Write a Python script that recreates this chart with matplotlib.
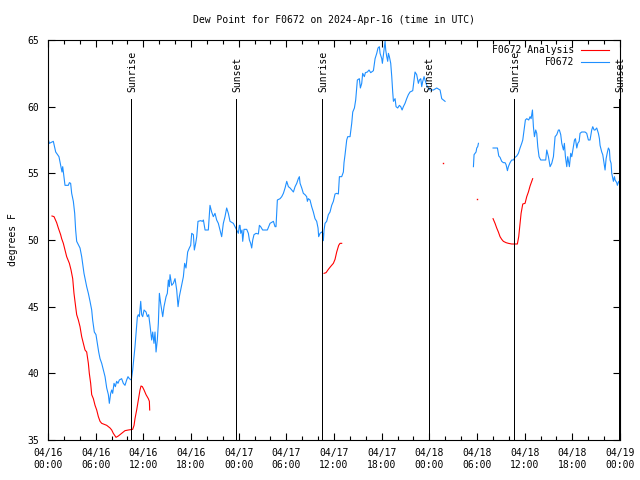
import numpy as np
import matplotlib
matplotlib.use("Agg")
import matplotlib.pyplot as plt

nan = np.nan

# F0672 observations: hours since 2024-04-16 00:00 UTC, dew point (F); NaN = gap
obs_t = [0.00, 0.17, 0.67, 0.97, 1.38, 1.59, 1.76, 1.85, 2.01, 2.14, 2.56, 2.69, 2.85, 2.98, 3.19,
         3.36, 3.48, 3.61, 4.03, 4.24, 4.53, 4.87, 5.08, 5.29, 5.50, 5.62, 5.83, 6.04, 6.21, 6.38,
         6.55, 6.76, 6.97, 7.18, 7.39, 7.60, 7.72, 7.89, 8.02, 8.14, 8.31, 8.48, 8.64, 8.81, 8.98,
         9.27, 9.48, 9.69, 9.90, 10.07, 10.24, 10.49, 10.66, 10.83, 10.95, 11.08, 11.25, 11.37,
         11.50, 11.67, 11.79, 11.92, 12.09, 12.34, 12.51, 12.67, 12.84, 13.05, 13.18, 13.34, 13.47,
         13.60, 13.76, 13.89, 14.02, 14.18, 14.44, 14.60, 14.86, 15.02, 15.15, 15.27, 15.36, 15.57,
         15.78, 15.99, 16.20, 16.37, 16.53, 16.70, 16.87, 17.04, 17.20, 17.37, 17.58, 17.79, 17.96,
         18.09, 18.30, 18.42, 18.59, 18.72, 18.88, 19.22, 19.43, 19.56, 19.77, 20.18, 20.39, 20.60,
         20.81, 21.02, 21.23, 21.44, 21.65, 21.86, 22.07, 22.28, 22.49, 22.70, 22.91, 23.33, 23.75,
         23.96, 24.09, 24.17, 24.26, 24.42, 24.51, 24.67, 25.01, 25.22, 25.35, 25.51, 25.64, 25.77,
         25.93, 26.19, 26.48, 26.61, 26.77, 27.02, 27.61, 27.95, 28.37, 28.58, 28.70, 28.87, 29.21,
         29.42, 29.63, 29.84, 30.05, 30.26, 30.47, 30.68, 30.89, 31.10, 31.31, 31.51, 31.64, 31.73,
         31.94, 32.14, 32.35, 32.56, 32.65, 32.77, 32.98, 33.19, 33.40, 33.61, 33.82, 33.99, 34.07,
         34.24, 34.45, 34.58, 34.66, 34.75, 34.87, 35.08, 35.29, 35.50, 35.71, 35.92, 36.13, 36.34,
         36.55, 36.68, 36.97, 37.18, 37.26, 37.39, 37.60, 37.73, 38.02, 38.23, 38.36, 38.57, 38.73,
         38.94, 39.19, 39.32, 39.49, 39.61, 39.82, 39.95, 40.20, 40.41, 40.62, 40.96, 41.17, 41.38,
         41.54, 41.71, 41.80, 42.01, 42.09, 42.22, 42.34, 42.43, 42.51, 42.64, 42.76, 42.85, 42.97,
         43.14, 43.27, 43.39, 43.48, 43.69, 43.81, 44.02, 44.23, 44.40, 44.57, 44.73, 44.94, 45.15,
         45.36, 45.57, 45.91, 46.20, 46.41, 46.62, 46.75, 46.92, 47.04, 47.17, 47.34, 47.46, 47.67,
         47.88, 48.09, 48.51, 48.93, 49.35, 49.56, 49.77, 49.98,
         nan,
         53.55, 53.63, 53.76, 53.88, 53.97, 54.09, 54.18,
         nan,
         56.02, 56.57, 56.74, 56.90, 57.11, 57.32, 57.53, 57.66, 57.83, 57.95, 58.16, 58.37, 58.58,
         58.79, 59.00, 59.21, 59.42, 59.63, 59.76, 59.93, 60.09, 60.26, 60.51, 60.68, 60.81, 60.98,
         61.10, 61.23, 61.39, 61.52, 61.65, 61.81, 62.02, 62.65, 62.78, 62.99, 63.20, 63.41, 63.62,
         63.83, 64.04, 64.25, 64.37, 64.54, 64.67, 64.88, 65.00, 65.13, 65.30, 65.42, 65.63, 65.80,
         65.93, 66.14, 66.27, 66.39, 66.56, 66.69, 66.86, 66.97, 67.18, 67.60, 67.81, 68.02, 68.23,
         68.44, 68.57, 68.74, 68.86, 69.07, 69.28, 69.41, 69.49, 69.70, 69.83, 70.00, 70.12, 70.25,
         70.42, 70.54, 70.67, 70.75, 70.88, 70.96, 71.17, 71.30, 71.38, 71.59, 71.67, 71.84, 72.00]
obs_v = [57.6, 57.25, 57.4, 56.6, 56.25, 55.6, 55.1, 55.5, 54.75, 54.1, 54.1, 54.3, 54.25, 53.5, 52.9,
         52.0, 50.75, 49.9, 49.4, 48.75, 47.5, 46.5, 46.0, 45.4, 44.75, 44.0, 43.1, 42.9, 42.25, 41.6,
         41.1, 40.75, 40.25, 39.75, 38.9, 38.4, 37.75, 38.5, 38.75, 38.5, 39.25, 39.0, 39.4, 39.25, 39.5,
         39.6, 39.25, 39.1, 39.5, 39.75, 39.6, 39.5, 40.25, 41.25, 42.0, 43.0, 44.25, 44.4,
         44.25, 45.4, 44.4, 44.25, 44.75, 44.6, 44.25, 44.4, 43.6, 42.5, 43.1, 42.25, 43.1,
         41.6, 42.5, 43.75, 46.0, 45.25, 44.25, 45.0, 45.75, 46.0, 47.0, 46.5, 47.4, 46.6,
         46.75, 47.1, 46.25, 45.0, 45.75, 46.25, 46.75, 47.25, 48.25, 47.9, 49.1, 49.4, 49.6,
         50.5, 50.4, 49.25, 49.75, 50.25, 51.4, 51.45, 51.4, 51.5, 50.75, 50.75, 52.6, 52.1,
         51.75, 52.0, 51.5, 51.25, 50.75, 50.25, 51.25, 51.75, 52.4, 52.0, 51.4, 51.25, 50.75,
         50.5, 51.1, 51.1, 50.5, 50.75, 49.9, 50.8, 50.8, 50.5, 50.0, 49.75, 49.4, 50.0,
         50.4, 50.5, 50.45, 51.1, 51.0, 50.75, 50.75, 51.25, 51.4, 51.0, 51.0, 53.0, 53.1,
         53.25, 53.5, 53.9, 54.4, 54.0, 53.9, 53.75, 53.6, 54.0, 54.25, 54.6, 54.75, 54.25,
         53.9, 53.5, 53.4, 53.25, 52.9, 53.1, 53.0, 52.5, 52.1, 51.6, 51.4, 50.9, 50.25,
         50.5, 50.6, 50.5, 49.95, 50.75, 51.25, 51.4, 51.9, 52.1, 52.6, 52.9, 53.45, 53.5,
         53.45, 54.75, 54.75, 55.1, 55.8, 56.4, 57.5, 57.75, 57.75, 58.75, 59.6, 59.9, 60.5,
         62.0, 62.1, 61.4, 61.75, 62.5, 62.25, 62.55, 62.6, 62.75, 62.55, 62.7, 63.6, 64.0,
         64.4, 64.5, 64.0, 63.6, 63.25, 63.9, 64.5, 64.9, 64.25, 63.75, 63.4, 64.0, 63.75,
         63.25, 62.25, 61.1, 60.4, 60.6, 60.0, 59.9, 60.1, 60.0, 59.75, 60.0, 60.25, 60.6,
         60.9, 61.1, 61.2, 62.6, 62.4, 61.75, 62.0, 62.1, 61.5, 61.9, 62.25, 62.0, 61.6,
         61.4, 61.25, 61.25, 61.4, 61.25, 60.6, 60.5, 60.4,
         nan,
         55.5, 56.4, 56.5, 56.6, 56.9, 57.0, 57.25,
         nan,
         56.9, 56.9, 56.3, 56.2, 55.9, 55.8, 55.8, 55.65, 55.2, 55.5, 55.8, 56.0, 56.0,
         56.2, 56.3, 56.5, 56.9, 57.25, 57.5, 58.25, 59.0, 59.1, 59.0, 59.25, 59.1, 59.75,
         58.5, 57.75, 58.25, 58.0, 57.0, 56.25, 56.0, 56.0, 56.75, 56.25, 55.5, 55.75, 56.25,
         57.75, 57.9, 58.25, 58.25, 57.9, 57.25, 56.75, 57.25, 56.25, 55.5, 56.25, 55.5, 56.5,
         56.25, 57.0, 57.5, 57.6, 56.9, 57.25, 57.4, 58.0, 58.1, 58.1, 58.0, 57.5, 57.5,
         58.25, 58.5, 58.25, 58.25, 58.4, 58.0, 57.6, 57.1, 56.6, 56.4, 55.75, 55.25, 56.1,
         56.6, 56.9, 56.75, 56.0, 55.75, 55.0, 54.4, 54.75, 54.5, 54.3, 54.1, 54.4, 54.25]

# F0672 Analysis
ana_t = [0.50, 0.76, 1.09, 1.30, 1.59, 1.72, 1.93, 2.14, 2.35, 2.69, 2.90, 3.11, 3.27, 3.48, 3.61,
         3.82, 4.03, 4.24, 4.45, 4.66, 4.87, 5.08, 5.20, 5.37, 5.50, 5.71, 5.92, 6.13, 6.34, 6.55,
         6.76, 7.39, 7.81, 8.02, 8.22, 8.56, 8.85, 9.27, 9.69, 10.11, 10.66, 10.83, 10.95, 11.16,
         11.37, 11.58, 11.71, 11.88, 12.09, 12.34, 12.63, 12.76, 12.80,
         nan,
         34.75, 35.00, 35.29, 35.63, 35.92, 36.13, 36.34, 36.59, 36.76, 36.97,
         nan,
         56.02, 56.27, 56.48, 56.69, 56.90, 57.11, 57.32, 57.66, 57.95, 58.37, 58.79, 59.08, 59.25,
         59.42, 59.55, 59.76, 60.05, 60.26, 60.47, 60.68, 60.89, 61.01]
ana_v = [51.8, 51.75, 51.3, 50.9, 50.4, 50.1, 49.75, 49.25, 48.75, 48.25, 47.75, 47.1, 46.0, 45.0, 44.4,
         44.0, 43.5, 42.75, 42.25, 41.75, 41.6, 40.75, 40.0, 39.25, 38.4, 38.1, 37.6, 37.25, 36.75, 36.4,
         36.25, 36.1, 35.9, 35.75, 35.5, 35.2, 35.3, 35.5, 35.7, 35.75, 35.8, 36.1, 36.6, 37.25,
         38.0, 38.75, 39.05, 39.0, 38.75, 38.4, 38.1, 37.9, 37.25,
         nan,
         47.5, 47.55, 47.8, 48.05, 48.25, 48.55, 49.1, 49.6, 49.75, 49.75,
         nan,
         51.6, 51.25, 50.9, 50.6, 50.25, 50.05, 49.9, 49.8, 49.75, 49.7, 49.7, 49.7, 50.25,
         51.25, 52.0, 52.7, 52.75, 53.25, 53.6, 54.05, 54.4, 54.6]
ana_dot_t = [49.77, 54.05]
ana_dot_v = [55.8, 53.1]

sun_t = [10.45, 23.69, 34.54, 47.90, 58.71, 71.93]
sun_lbl = ["Sunrise", "Sunset", "Sunrise", "Sunset", "Sunrise", "Sunset"]

xtick_hours = list(range(0, 73, 6))
xtick_labels = ["04/16\n00:00", "04/16\n06:00", "04/16\n12:00", "04/16\n18:00",
                "04/17\n00:00", "04/17\n06:00", "04/17\n12:00", "04/17\n18:00",
                "04/18\n00:00", "04/18\n06:00", "04/18\n12:00", "04/18\n18:00",
                "04/19\n00:00"]
ytick_vals = [35, 40, 45, 50, 55, 60, 65]

title = "Dew Point for F0672 on 2024-Apr-16 (time in UTC)"

FONT = "DejaVu Sans Mono"
FS = 7
plt.rcParams["font.family"] = FONT
plt.rcParams["font.size"] = FS

fig = plt.figure(figsize=(6.4, 4.8), dpi=100)
ax = fig.add_axes([48 / 640, 40 / 480, 572 / 640, 400 / 480])

red = "#ff0000"
blue = "#1e8fff"
LW = 0.8

ax.plot(ana_t, ana_v, color=red, lw=LW, label="F0672 Analysis")
ax.plot(ana_dot_t, ana_dot_v, color=red, lw=0, marker="s", ms=1.0, mew=0, antialiased=False)
ax.plot(obs_t, obs_v, color=blue, lw=LW, label="F0672")

for t, lbl in zip(sun_t, sun_lbl):
    ax.plot([t, t], [35, 60.6], color="black", lw=0.72, antialiased=False)
    ax.text(t + 0.15, 61.1, lbl, rotation=90, ha="center", va="bottom", fontsize=FS)

ax.set_xlim(0, 72)
ax.set_ylim(35, 65)
ax.set_xticks(xtick_hours)
ax.set_xticklabels(xtick_labels)
ax.set_xticks(np.arange(0, 73, 2), minor=True)
ax.set_yticks(ytick_vals)
ax.tick_params(axis="both", which="both", direction="in", top=True, right=True, labelsize=FS)
ax.tick_params(which="major", length=5, width=0.8)
ax.tick_params(which="minor", length=3, width=0.8)
ax.tick_params(axis="x", pad=6)
ax.tick_params(axis="y", pad=6.5)
for s in ax.spines.values():
    s.set_linewidth(0.8)

ax.set_ylabel("degrees F", fontsize=FS, labelpad=7)
ax.set_title(title, fontsize=FS, pad=12)

ax.legend(loc="upper right", bbox_to_anchor=(0.981, 0.987), frameon=False, markerfirst=False,
          fontsize=FS, handlelength=2.9, borderaxespad=0, borderpad=0, labelspacing=0.2,
          handletextpad=0.7)

fig.savefig("out.png", dpi=100)
